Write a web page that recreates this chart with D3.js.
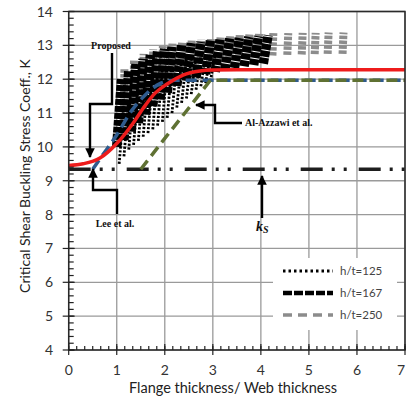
<!DOCTYPE html>
<html>
<head>
<meta charset="utf-8">
<script src="https://cdn.jsdelivr.net/npm/d3@7"></script>
<style>
  body { margin: 0; background: #fff; }
  svg text { font-family: Lato, "Open Sans", sans-serif; }
  .note { font-family: "Liberation Serif", "DejaVu Serif", serif; font-weight: bold; font-size: 10px; fill: #111; }
</style>
</head>
<body>
<script>
(function(){

    //data
    var propX = [0, 0.3, 0.65, 1.0, 1.34, 1.55, 1.76, 2.04, 2.38, 2.73, 3.0, 3.5, 7];
    var propK = [9.45, 9.5, 9.67, 10.1, 10.7, 11.14, 11.53, 11.85, 12.12, 12.24, 12.27, 12.28, 12.28];

    var leeX = [0.5, 0.7, 1.0, 1.3, 1.55, 1.9, 2.2, 7];
    var leeK = [9.34, 9.75, 10.35, 11.05, 11.47, 11.87, 11.97, 11.97];

    var azzX = [1.5, 2.0, 2.5, 2.95, 7];
    var azzK = [9.34, 10.25, 11.15, 11.97, 11.97];

    var ksX = [0, 7];
    var ksK = [9.34, 9.34];

    //h/t = 250 (grey columns)
    var g250X  = [1.15, 1.35, 1.55, 1.75, 1.95, 2.15, 2.35, 2.55, 2.75, 2.95, 3.15, 3.35, 3.55, 3.75, 3.95, 4.25, 4.56, 4.86, 5.13, 5.4, 5.71];
    var g250Hi = [12.3, 12.55, 12.75, 12.88, 12.98, 13.05, 13.1, 13.14, 13.18, 13.21, 13.24, 13.27, 13.3, 13.32, 13.34, 13.36, 13.36, 13.37, 13.37, 13.38, 13.38];
    var g250Lo = [10.6, 11.0, 11.4, 11.7, 11.9, 12.1, 12.25, 12.35, 12.45, 12.5, 12.55, 12.6, 12.63, 12.66, 12.68, 12.7, 12.72, 12.73, 12.74, 12.75, 12.75];

    //h/t = 167 (black dashed columns)
    var b167X  = [1.05, 1.2, 1.35, 1.5, 1.65, 1.8, 1.95, 2.1, 2.3, 2.5, 2.7, 2.9, 3.1, 3.3, 3.5, 3.7, 3.9, 4.1];
    var b167Hi = [12.0, 12.25, 12.45, 12.6, 12.72, 12.82, 12.9, 12.96, 13.02, 13.07, 13.1, 13.14, 13.17, 13.2, 13.22, 13.25, 13.27, 13.3];
    var b167Lo = [10.0, 10.2, 10.45, 10.7, 10.95, 11.2, 11.4, 11.6, 11.8, 11.95, 12.05, 12.15, 12.22, 12.28, 12.33, 12.38, 12.42, 12.46];

    //h/t = 125 (dotted columns)
    var d125X  = [1.1, 1.2, 1.3, 1.4, 1.5, 1.6, 1.7, 1.8, 1.9, 2.0, 2.1, 2.2, 2.3, 2.4, 2.5, 2.6, 2.7, 2.8, 2.9, 3.0];
    var d125Lo = [9.5, 9.72, 9.92, 10.06, 10.18, 10.3, 10.41, 10.52, 10.63, 10.74, 10.86, 11.0, 11.16, 11.3, 11.43, 11.56, 11.69, 11.79, 11.88, 11.95];
    var d125Hi = [11.2, 11.4, 11.6, 11.75, 11.9, 12.0, 12.1, 12.2, 12.3, 12.4, 12.45, 12.5, 12.55, 12.6, 12.62, 12.65, 12.68, 12.7, 12.72, 12.74];

    var xTicks = [0, 1, 2, 3, 4, 5, 6, 7];
    var yTicks = [4, 5, 6, 7, 8, 9, 10, 11, 12, 13, 14];
    var legendLabels = ["h/t=125", "h/t=167", "h/t=250"];

    window.onload = function(){
        drawChart();
    };

    function drawChart(){
        var width = 407, height = 401;
        var left = 68.7, right = 405, top = 11.5, bottom = 350;

        var svg = d3.select("body")
            .append("svg")
            .attr("width", width)
            .attr("height", height);

        var x = d3.scaleLinear().domain([0, 7]).range([left, right]);
        var y = d3.scaleLinear().domain([4, 14]).range([bottom, top]);

        //grid lines
        svg.selectAll(".vgrid")
            .data(xTicks)
            .enter()
            .append("line")
            .attr("x1", function(d){ return x(d); })
            .attr("x2", function(d){ return x(d); })
            .attr("y1", top)
            .attr("y2", bottom)
            .style("stroke", "#9a9a9a")
            .style("stroke-width", 1.3);
        svg.selectAll(".hgrid")
            .data(yTicks)
            .enter()
            .append("line")
            .attr("x1", left)
            .attr("x2", right)
            .attr("y1", function(d){ return y(d); })
            .attr("y2", function(d){ return y(d); })
            .style("stroke", "#9a9a9a")
            .style("stroke-width", 1.3);

        var line = d3.line()
            .x(function(d){ return x(d[0]); })
            .y(function(d){ return y(d[1]); });

        //columns of FE results
        function columns(xs, lo, hi, slant, color, w, dash){
            svg.append("g")
                .selectAll("path")
                .data(xs.map(function(v, i){ return [[v - slant, lo[i]], [v + slant, hi[i]]]; }))
                .enter()
                .append("path")
                .attr("d", line)
                .style("fill", "none")
                .style("stroke", color)
                .style("stroke-width", w)
                .style("stroke-dasharray", dash);
        }
        columns(g250X, g250Lo, g250Hi, 0.01, "#8c8c8c", 8, "3.5,1.4");
        columns(b167X, b167Lo, b167Hi, 0.05, "#000", 9.5, "6,1");
        columns(d125X, d125Lo, d125Hi, 0.05, "#000", 2.8, "2.2,1.6");

        function series(xs, ks, color, w, dash, curve){
            var gen = d3.line()
                .x(function(d){ return x(d[0]); })
                .y(function(d){ return y(d[1]); })
                .curve(curve || d3.curveLinear);
            svg.append("path")
                .datum(xs.map(function(v, i){ return [v, ks[i]]; }))
                .attr("d", gen)
                .style("fill", "none")
                .style("stroke", color)
                .style("stroke-width", w)
                .style("stroke-dasharray", dash);
        }
        series(ksX, ksK, "#1e1e1e", 3.5, "22,9,3,9,3,12");
        series(leeX, leeK, "#2f5b8e", 3.5, "11,6", d3.curveMonotoneX);
        series(azzX, azzK, "#5f7133", 3.5, "11,6");
        series(propX, propK, "#ee1c1c", 3.5, null, d3.curveMonotoneX);

        //frame
        svg.append("rect")
            .attr("x", left)
            .attr("y", top)
            .attr("width", right - left)
            .attr("height", bottom - top)
            .style("fill", "none")
            .style("stroke", "#2a2a2a")
            .style("stroke-width", 1.5);

        //ticks
        var xMinor = d3.range(0, 7.0001, 1 / 6);
        var yMinor = d3.range(4, 14.0001, 0.2);
        svg.selectAll(".xminor")
            .data(xMinor)
            .enter()
            .append("line")
            .attr("x1", function(d){ return x(d); })
            .attr("x2", function(d){ return x(d); })
            .attr("y1", bottom)
            .attr("y2", bottom - 4)
            .style("stroke", "#222")
            .style("stroke-width", 1.2);
        svg.selectAll(".xmajor")
            .data(xTicks)
            .enter()
            .append("line")
            .attr("x1", function(d){ return x(d); })
            .attr("x2", function(d){ return x(d); })
            .attr("y1", bottom - 6)
            .attr("y2", bottom + 5)
            .style("stroke", "#222")
            .style("stroke-width", 1.2);
        svg.selectAll(".yminor")
            .data(yMinor)
            .enter()
            .append("line")
            .attr("x1", left)
            .attr("x2", left + 5)
            .attr("y1", function(d){ return y(d); })
            .attr("y2", function(d){ return y(d); })
            .style("stroke", "#222")
            .style("stroke-width", 1.2);
        svg.selectAll(".ymajor")
            .data(yTicks)
            .enter()
            .append("line")
            .attr("x1", left - 6)
            .attr("x2", left + 6)
            .attr("y1", function(d){ return y(d); })
            .attr("y2", function(d){ return y(d); })
            .style("stroke", "#222")
            .style("stroke-width", 1.2);

        //tick labels
        svg.selectAll(".xlab")
            .data(xTicks)
            .enter()
            .append("text")
            .attr("x", function(d){ return Math.min(x(d), 401); })
            .attr("y", 375)
            .attr("text-anchor", "middle")
            .style("font-size", "14px")
            .style("fill", "#333")
            .text(function(d){ return d; });
        svg.selectAll(".ylab")
            .data(yTicks)
            .enter()
            .append("text")
            .attr("x", 53)
            .attr("y", function(d){ return y(d); })
            .attr("dy", "0.36em")
            .attr("text-anchor", "end")
            .style("font-size", "14px")
            .style("fill", "#333")
            .text(function(d){ return d; });

        //axis titles
        svg.append("text")
            .attr("x", 233)
            .attr("y", 393)
            .attr("text-anchor", "middle")
            .style("font-size", "14.5px")
            .style("fill", "#222")
            .text("Flange thickness/ Web thickness");
        svg.append("text")
            .attr("transform", "translate(30,176) rotate(-90)")
            .attr("text-anchor", "middle")
            .style("font-size", "14px")
            .style("fill", "#222")
            .text("Critical Shear Buckling Stress Coeff., K");

        //annotations
        var defs = svg.append("defs");
        defs.append("marker")
            .attr("id", "arrow")
            .attr("viewBox", "0 0 10 10")
            .attr("refX", 9)
            .attr("refY", 5)
            .attr("markerWidth", 4)
            .attr("markerHeight", 4)
            .attr("orient", "auto")
            .append("path")
            .attr("d", "M0,0 L10,5 L0,10 Z")
            .style("fill", "#000");

        function leader(pts){
            svg.append("path")
                .attr("d", d3.line()(pts))
                .style("fill", "none")
                .style("stroke", "#000")
                .style("stroke-width", 2.4)
                .attr("marker-end", "url(#arrow)");
        }
        leader([[112, 53], [112, 104], [90, 104], [90, 157]]);
        leader([[117, 214], [117, 190], [93, 190], [93, 169]]);
        leader([[242, 123], [215, 123], [215, 105], [196, 105]]);
        leader([[262, 218], [262, 176]]);

        svg.append("text").attr("class", "note")
            .attr("x", 111).attr("y", 49)
            .attr("text-anchor", "middle")
            .style("font-weight", "600")
            .text("Proposed");
        svg.append("text").attr("class", "note")
            .attr("x", 115).attr("y", 227)
            .attr("text-anchor", "middle")
            .style("font-weight", "600")
            .text("Lee et al.");
        svg.append("text").attr("class", "note")
            .attr("x", 245).attr("y", 126)
            .style("font-weight", "600")
            .text("Al-Azzawi et al.");
        var ks = svg.append("text").attr("class", "note")
            .attr("x", 256).attr("y", 231)
            .style("font-size", "14px")
            .style("font-style", "italic");
        ks.append("tspan").text("k");
        ks.append("tspan").attr("dy", 2).style("font-size", "10px").text("S");

        //legend
        svg.append("rect")
            .attr("x", 273)
            .attr("y", 258)
            .attr("width", 124)
            .attr("height", 72)
            .style("fill", "#fff");
        var legStyles = [
            {color: "#000", w: 3, dash: "2.5,3"},
            {color: "#000", w: 4.5, dash: "9,2"},
            {color: "#8c8c8c", w: 3.5, dash: "9,6"}
        ];
        var rows = svg.selectAll(".legrow")
            .data(legendLabels)
            .enter()
            .append("g")
            .attr("transform", function(d, i){ return "translate(0," + (271 + i * 22) + ")"; });
        rows.append("line")
            .attr("x1", 283)
            .attr("x2", 333)
            .style("stroke", function(d, i){ return legStyles[i].color; })
            .style("stroke-width", function(d, i){ return legStyles[i].w; })
            .style("stroke-dasharray", function(d, i){ return legStyles[i].dash; });
        rows.append("text")
            .attr("x", 340)
            .attr("dy", "0.35em")
            .style("font-size", "11.5px")
            .style("fill", "#444")
            .text(function(d){ return d; });
    }

})();
</script>
</body>
</html>
